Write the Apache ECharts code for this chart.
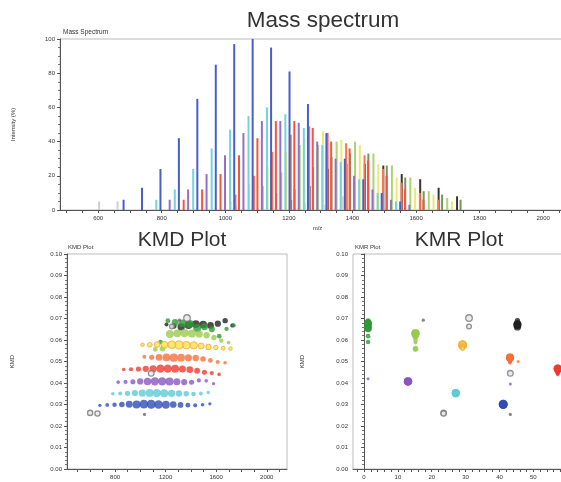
<!DOCTYPE html>
<html><head><meta charset="utf-8">
<script src="https://cdn.jsdelivr.net/npm/echarts@6/dist/echarts.min.js"></script>
<style>html,body{margin:0;padding:0;background:#fff}#c{width:561px;height:482px}</style>
</head><body><div id="c"></div>
<script>
// ---------- data ----------
const blueMz   = [680,738,796,854,912,970,1028,1086,1144,1202,1260,1318,1376,1434,1492,1550];
const blueInt  = [6,13,24,42,65,85,97,100,95,81,62,45,30,18,10,5];
const blueKmd  = [0.0296,0.0298,0.0299,0.0300,0.0301,0.0300,0.0302,0.0301,0.0300,0.0299,0.0300,0.0298,0.0297,0.0296,0.0299,0.0303];

const cyanMz   = [783,841,899,957,1015,1073,1131,1189,1247,1305,1363,1421,1479,1537];
const cyanInt  = [6,12,24,36,47,55,60,56,48,38,28,18,10,5];
const cyanKmd  = [0.0350,0.0351,0.0352,0.0353,0.0353,0.0354,0.0353,0.0352,0.0352,0.0351,0.0350,0.0349,0.0351,0.0356];

const purpleMz  = [825,883,941,999,1057,1115,1173,1231,1289,1347,1405,1463,1521,1579];
const purpleInt = [6,12,21,32,45,52,52,51,40,30,20,12,6,3];
const purpleKmd = [0.0404,0.0405,0.0406,0.0407,0.0407,0.0408,0.0408,0.0407,0.0406,0.0404,0.0403,0.0412,0.0410,0.0397];

const redMz    = [869,927,985,1043,1101,1159,1217,1275,1333,1391,1449,1507,1565,1623];
const redInt   = [6,12,21,32,42,52,52,48,40,36,29,20,12,6];
const redKmd   = [0.0463,0.0464,0.0465,0.0466,0.0466,0.0467,0.0467,0.0466,0.0465,0.0462,0.0457,0.0450,0.0446,0.0440];

const orangeMz  = [1032,1090,1148,1206,1264,1322,1380,1438,1496,1554,1612,1670];
const orangeInt = [9,20,34,44,49,45,39,32,24,16,10,6];
const orangeKmd = [0.0522,0.0520,0.0519,0.0519,0.0518,0.0518,0.0517,0.0516,0.0512,0.0505,0.0498,0.0494];

const yellowMz  = [1017,1075,1133,1191,1249,1307,1365,1423,1481,1539,1597,1655,1713];
const yellowInt = [5,15,25,34,42,46,41,38,27,19,13,9,5];
const yellowKmd = [0.0578,0.0578,0.0579,0.0578,0.0578,0.0577,0.0576,0.0575,0.0572,0.0568,0.0565,0.0562,0.0560];

const lgreenMz  = [1118,1176,1234,1292,1350,1408,1466,1524,1582,1640,1698];
const lgreenInt = [14,22,38,38,40,40,33,26,19,11,7];
const lgreenKmd = [0.0556,0.0560,0.0628,0.0631,0.0632,0.0630,0.0628,0.0622,0.0612,0.0598,0.0588];

const greenMz  = [1160,1218,1276,1334,1392,1450,1508,1566,1624,1682,1740];
const greenInt = [10,12,25,31,33,33,26,19,11,9,6];
const greenKmd = [0.0591,0.0690,0.0682,0.0678,0.0675,0.0656,0.0662,0.0650,0.0618,0.0652,0.0668];

const blackMz  = [1207,1265,1323,1381,1439,1497,1555,1613,1671,1729];
const blackInt = [6,14,24,27,27,26,21,18,13,8];
const blackKmd = [0.0672,0.0665,0.0661,0.0670,0.0674,0.0672,0.0668,0.0676,0.0690,0.0668];

// KMR value of each series (same order as seriesKeys)
const seriesKeys = ['black','green','lgreen','yellow','orange','red','purple','cyan','blue'];
const seriesKmr  = [45.3, 1.2, 15.2, 29.1, 43.1, 57.2, 13.0, 27.1, 41.1];

const grayMz  = [603, 661, 1033, 1086, 1250, 1369, 1310];
const grayInt = [5, 5, 3, 6, 4, 8, 3];
const grayKmd = [0.0261, 0.0258, 0.0254, 0.0445, 0.0663, 0.0702, 0.0692];
const grayKmr = [23.5, 23.5, 43.2, 43.2, 31.0, 31.0, 17.5];

const extraKmr = [1.2, 43.2, 45.5];
const extraKmd = [0.042, 0.0395, 0.050];
const extraKey = ['purple', 'purple', 'orange'];

// axis ticks / labels
const specLabels = [600,800,1000,1200,1400,1600,1800,2000];
const specTicks  = [500,550,600,650,700,750,800,850,900,950,1000,1050,1100,1150,1200,1250,1300,1350,1400,1450,1500,1550,1600,1650,1700,1750,1800,1850,1900,1950,2000,2050];
const kmdLabels  = [800,1200,1600,2000];
const kmdTicks   = [500,600,700,800,900,1000,1100,1200,1300,1400,1500,1600,1700,1800,1900,2000,2100];
const kmrLabels  = [0,10,20,30,40,50];
const kmrTicks   = [-2,0,2,4,6,8,10,12,14,16,18,20,22,24,26,28,30,32,34,36,38,40,42,44,46,48,50,52,54,56,58,60];

// ---------- styles ----------
const DATA = {
  blue:{mz:blueMz,int:blueInt,kmd:blueKmd}, cyan:{mz:cyanMz,int:cyanInt,kmd:cyanKmd},
  purple:{mz:purpleMz,int:purpleInt,kmd:purpleKmd}, red:{mz:redMz,int:redInt,kmd:redKmd},
  orange:{mz:orangeMz,int:orangeInt,kmd:orangeKmd}, yellow:{mz:yellowMz,int:yellowInt,kmd:yellowKmd},
  lgreen:{mz:lgreenMz,int:lgreenInt,kmd:lgreenKmd}, green:{mz:greenMz,int:greenInt,kmd:greenKmd},
  black:{mz:blackMz,int:blackInt,kmd:blackKmd}
};
const STY = {
  blue:  {bar:'#4a5ec9', dot:'#2f4db6'},
  cyan:  {bar:'#72d3de', dot:'#5ccbd8'},
  purple:{bar:'#9a6cc8', dot:'#8a56c2'},
  red:   {bar:'#f4553f', dot:'#f03a30'},
  orange:{bar:'#fb7650', dot:'#f6703a'},
  yellow:{bar:'#ebe873', dot:'#f3e34c', border:'#f5a640'},
  lgreen:{bar:'#aad470', dot:'#9acb4e'},
  green: {bar:'#74965a', dot:'#2f9a36'},
  black: {bar:'#3e3031', dot:'#222222'}
};
const FONT = 'Liberation Sans';
const plain = v => String(v);
const LBL = {fontSize:6, color:'#333', fontFamily:FONT, formatter:plain};
const AXL = {lineStyle:{color:'#555', width:1}};

function dotSize(v, max){ return 3 + 4.5*v/max + 1.5*v/100; }

const series = [];
series.push({type:'bar', xAxisIndex:0, yAxisIndex:0, barWidth:2, barGap:'-100%', silent:true,
  itemStyle:{color:'#cfcfcf'}, data: grayMz.map((m,i)=>[m, grayInt[i]])});
seriesKeys.forEach(k=>{
  const d = DATA[k];
  series.push({type:'bar', xAxisIndex:0, yAxisIndex:0, barWidth:2, barGap:'-100%', silent:true,
    itemStyle:{color:STY[k].bar}, data: d.mz.map((m,i)=>[m, d.int[i]])});
});
seriesKeys.forEach(k=>{
  const d = DATA[k], mx = Math.max(...d.int);
  const it = {color:STY[k].dot};
  if (STY[k].border){ it.borderColor = STY[k].border; it.borderWidth = 1; }
  series.push({type:'scatter', xAxisIndex:1, yAxisIndex:1, silent:true, itemStyle:it,
    symbolSize: v=>dotSize(v[2], mx), data: d.mz.map((m,i)=>[m, d.kmd[i], d.int[i]])});
});
seriesKeys.forEach((k,si)=>{
  const d = DATA[k], mx = Math.max(...d.int);
  const it = {color:STY[k].dot};
  if (STY[k].border){ it.borderColor = STY[k].border; it.borderWidth = 1; }
  series.push({type:'scatter', xAxisIndex:2, yAxisIndex:2, silent:true, itemStyle:it,
    symbolSize: v=>dotSize(v[2], mx), data: d.kmd.map((y,i)=>[seriesKmr[si], y, d.int[i]])});
});
series.push({type:'scatter', xAxisIndex:2, yAxisIndex:2, silent:true, symbolSize:3,
  data: extraKmr.map((x,i)=>({value:[x, extraKmd[i]], itemStyle:{color:STY[extraKey[i]].dot}}))});
const grayItem = v => v >= 4 ? {color:'#e6e6e6', borderColor:'#777', borderWidth:1.3} : {color:'#666'};
const graySize = v => v >= 4 ? 3 + v*0.45 : 3.2;
series.push({type:'scatter', xAxisIndex:1, yAxisIndex:1, silent:true,
  symbolSize: v=>graySize(v[2]),
  data: grayMz.map((m,i)=>({value:[m, grayKmd[i], grayInt[i]], itemStyle:grayItem(grayInt[i])}))});
series.push({type:'scatter', xAxisIndex:2, yAxisIndex:2, silent:true,
  symbolSize: v=>graySize(v[2]),
  data: grayKmr.map((x,i)=>({value:[x, grayKmd[i], grayInt[i]], itemStyle:grayItem(grayInt[i])}))});

const kmdY = (gi, gap) => ({gridIndex:gi, type:'value', min:0, max:0.10, interval:0.01,
  name:'KMD', nameLocation:'middle', nameRotate:90, nameGap:gap,
  nameTextStyle:{fontSize:6, color:'#333', fontFamily:FONT},
  axisLine:{show:true, ...AXL}, axisTick:{show:true, length:3, lineStyle:{color:'#555'}},
  minorTick:{show:true, splitNumber:5, length:2, lineStyle:{color:'#777'}},
  splitLine:{show:false}, axisLabel:{...LBL, margin:5, formatter:v=>v.toFixed(2)}});

const option = {
  animation:false,
  backgroundColor:'#fff',
  title:[
    {text:'Mass spectrum', left:323, top:9, textAlign:'center', padding:0,
     textStyle:{fontSize:22.5, fontWeight:'normal', color:'#333', fontFamily:FONT}},
    {text:'KMD Plot', left:182, top:230, textAlign:'center', padding:0,
     textStyle:{fontSize:21, fontWeight:'normal', color:'#333', fontFamily:FONT}},
    {text:'KMR Plot', left:459, top:230, textAlign:'center', padding:0,
     textStyle:{fontSize:21, fontWeight:'normal', color:'#333', fontFamily:FONT}}
  ],
  graphic:[
    {type:'text', left:63, top:29, style:{text:'Mass Spectrum', fontSize:6.5, fill:'#333', fontFamily:FONT}},
    {type:'text', left:68, top:244, style:{text:'KMD Plot', fontSize:6, fill:'#333', fontFamily:FONT}},
    {type:'text', left:355, top:244, style:{text:'KMR Plot', fontSize:6, fill:'#333', fontFamily:FONT}}
  ],
  grid:[
    {left:60, top:39, width:515, height:171, show:true, borderColor:'#bbb', borderWidth:1, outerBoundsMode:'none'},
    {left:67, top:254, width:220, height:215, show:true, borderColor:'#bbb', borderWidth:1, outerBoundsMode:'none'},
    {left:353, top:254, width:221, height:215, show:true, borderColor:'#bbb', borderWidth:1, outerBoundsMode:'none'}
  ],
  xAxis:[
    {gridIndex:0, type:'value', min:480, max:2100, name:'m/z', nameLocation:'middle', nameGap:15,
     nameTextStyle:{fontSize:6, color:'#333', fontFamily:FONT},
     axisLine:AXL, axisTick:{customValues:specTicks, length:3, lineStyle:{color:'#555'}},
     axisLabel:{...LBL, customValues:specLabels, margin:5}, splitLine:{show:false}},
    {gridIndex:1, type:'value', min:420, max:2160,
     axisLine:AXL, axisTick:{customValues:kmdTicks, length:3, lineStyle:{color:'#555'}},
     axisLabel:{...LBL, customValues:kmdLabels, margin:5}, splitLine:{show:false}},
    {gridIndex:2, type:'value', min:-3.25, max:62,
     axisLine:AXL, axisTick:{customValues:kmrTicks, length:3, lineStyle:{color:'#555'}},
     axisLabel:{...LBL, customValues:kmrLabels, margin:5}, splitLine:{show:false}}
  ],
  yAxis:[
    {gridIndex:0, type:'value', min:0, max:100, interval:20,
     name:'Intensity (%)', nameLocation:'middle', nameRotate:90, nameGap:44,
     nameTextStyle:{fontSize:6, color:'#333', fontFamily:FONT},
     axisLine:{show:true, ...AXL}, axisTick:{show:true, length:3, lineStyle:{color:'#555'}},
     minorTick:{show:true, splitNumber:4, length:2, lineStyle:{color:'#777'}},
     splitLine:{show:false}, axisLabel:{...LBL, margin:5}},
    kmdY(1, 52),
    kmdY(2, 48)
  ],
  series
};
const chart = echarts.init(document.getElementById('c'), null, {renderer:'canvas'});
chart.setOption(option);
</script></body></html>
